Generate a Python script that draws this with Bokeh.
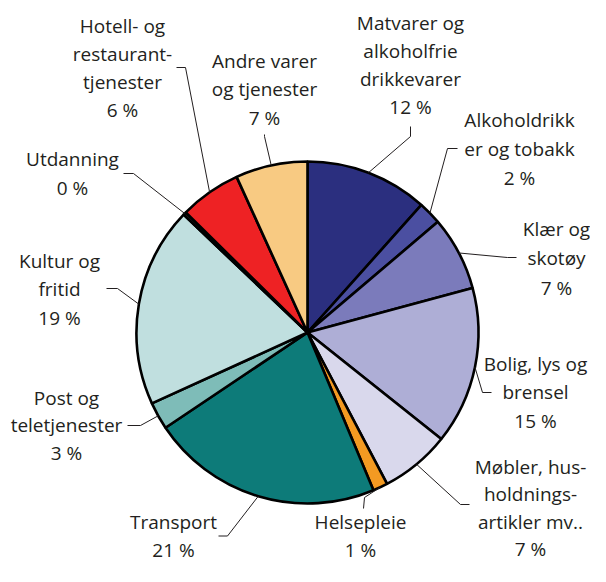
import math
from bokeh.plotting import figure
from bokeh.models import Range1d, ColumnDataSource
from bokeh.core.properties import value
from bokeh.embed import file_html
from bokeh.resources import INLINE

# ---------------- data ----------------
categories = [
    "Matvarer og\nalkoholfrie\ndrikkevarer",
    "Alkoholdrikk\ner og tobakk",
    "Klær og\nskotøy",
    "Bolig, lys og\nbrensel",
    "Møbler, hus-\nholdnings-\nartikler mv..",
    "Helsepleie",
    "Transport",
    "Post og\nteletjenester",
    "Kultur og\nfritid",
    "Utdanning",
    "Hotell- og\nrestaurant-\ntjenester",
    "Andre varer\nog tjenester",
]
values = [11.6, 2.2, 7.0, 14.9, 6.6, 1.4, 21.9, 2.6, 18.9, 0.3, 5.8, 6.8]
pct_labels = ["12 %", "2 %", "7 %", "15 %", "7 %", "1 %", "21 %", "3 %", "19 %", "0 %", "6 %", "7 %"]
colors = ["#2B2F7F", "#4B4FA1", "#7B7BBB", "#AEAED6", "#D9D8EC", "#F39A22",
          "#0D7B79", "#7EBCB8", "#C0DFDF", "#231F20", "#EE2224", "#F8CA82"]

# ---------------- layout (canvas pixels) ----------------
W, H = 590, 566
CX, CY, R = 307, 332, 171
# label: (center x, first line y, line spacing); leader: elbow, tip
label_pos = [(410, 22, 28.3), (519, 119, 29), (556, 228, 29.5), (535, 363, 28.5),
             (530, 466, 27.5), (360, 521.5, 27.5), (173, 521.5, 27.5), (66, 397, 27.5),
             (59, 260, 28.5), (72, 158, 29), (122, 25, 28), (264, 60, 28.5)]
leader_pts = [((410, 136), (410, 126)), ((447, 148), (457, 148)), ((507, 257), (516, 257)),
              ((482, 392), (491, 392)), ((460, 504), (469, 504)), ((364, 497), (363, 508)),
              ((227, 535.5), (218, 535.5)), ((140, 425), (127, 425)), ((117, 288), (106, 288)),
              ((133, 173), (123, 173)), ((185, 67), (176, 67)), ((264, 136), (264, 134))]

def dy(y):
    return H - y

p = figure(width=W, height=H, output_backend="svg", toolbar_location=None,
           x_range=Range1d(0, W), y_range=Range1d(0, H), min_border=0)
p.axis.visible = False
p.grid.visible = False
p.outline_line_color = None
p.background_fill_color = "white"
p.border_fill_color = "white"

total = sum(values)
starts, ends, mids = [], [], []
cum = 0.0
for v in values:
    a0 = cum / total * 2 * math.pi
    cum += v
    a1 = cum / total * 2 * math.pi
    starts.append(math.pi / 2 - a0)
    ends.append(math.pi / 2 - a1)
    mids.append((a0 + a1) / 2)

src = ColumnDataSource(dict(x=[CX] * len(values), y=[dy(CY)] * len(values),
                            start=starts, end=ends, color=colors))
p.wedge(x="x", y="y", radius=R, start_angle="start", end_angle="end",
        direction="clock", fill_color="color", line_color="black", line_width=2.6,
        source=src)

# leader lines
lx, ly = [], []
for m, (elb, tip) in zip(mids, leader_pts):
    rx = CX + R * math.sin(m)
    ry = CY - R * math.cos(m)
    lx.append([rx, elb[0], tip[0]])
    ly.append([dy(ry), dy(elb[1]), dy(tip[1])])
p.multi_line(xs=lx, ys=ly, line_color="#231F20", line_width=1)

# labels
tx, ty, tt = [], [], []
for cat, pct, (x0, y0, sp) in zip(categories, pct_labels, label_pos):
    lines = cat.split("\n") + [pct]
    for i, ln in enumerate(lines):
        tx.append(x0)
        ty.append(dy(y0 + i * sp))
        tt.append(ln)
p.text(x=tx, y=ty, text=tt, text_align="center", text_baseline="middle",
       text_font=value("Open Sans"), text_font_size="19px", text_color="#231F20")

open("out.html", "w").write(file_html(p, INLINE))
